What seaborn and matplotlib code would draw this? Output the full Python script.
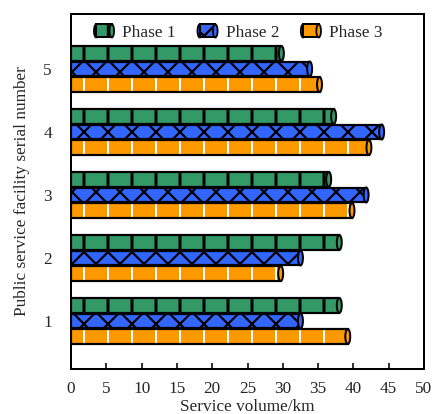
import matplotlib
matplotlib.use("Agg")
import matplotlib.pyplot as plt
import seaborn as sns
import pandas as pd
from matplotlib.patches import Rectangle, Ellipse
from matplotlib.legend_handler import HandlerBase

facilities = ["1", "2", "3", "4", "5"]
phases = ["Phase 1", "Phase 2", "Phase 3"]
phase1 = [38.0, 38.0, 36.5, 37.2, 29.8]
phase2 = [32.5, 32.5, 41.8, 44.0, 33.8]
phase3 = [39.2, 29.7, 39.8, 42.2, 35.2]
xticks = [0, 5, 10, 15, 20, 25, 30, 35, 40, 45, 50]

colors = {"Phase 1": "#339966", "Phase 2": "#3366FF", "Phase 3": "#FF9900"}
hatch_col = {"Phase 1": "black", "Phase 2": "black", "Phase 3": "white"}
hatches = {"Phase 1": "|", "Phase 2": "xx", "Phase 3": "|"}
hatch_lw = {"Phase 1": 1.5, "Phase 2": 1.1, "Phase 3": 1.0}

rows = []
for vals, ph in zip([phase1, phase2, phase3], phases):
    for f, v in zip(facilities, vals):
        rows.append({"facility": f, "phase": ph, "value": v})
df = pd.DataFrame(rows)

sns.set_style("white")
plt.rcParams["font.family"] = ["Liberation Serif", "DejaVu Serif"]
plt.rcParams["hatch.linewidth"] = 1.2

DPI = 144
fig = plt.figure(figsize=(434 / DPI, 414 / DPI), dpi=DPI)
ax = fig.add_axes([71 / 434, 1 - 369 / 414, (424 - 71) / 434, (369 - 14) / 414])

order = ["5", "4", "3", "2", "1"]
sns.barplot(data=df, x="value", y="facility", hue="phase", order=order,
            hue_order=phases, orient="h", width=0.74, gap=0.04,
            palette=colors, ax=ax, legend=False, errorbar=None)

capw = 0.7
for cont, ph in zip(ax.containers, phases):
    for p in cont.patches:
        x0, y0, w, h = p.get_x(), p.get_y(), p.get_width(), p.get_height()
        p.set_facecolor(colors[ph])
        p.set_edgecolor(hatch_col[ph])
        p.set_hatch(hatches[ph])
        p.set_linewidth(0)
        if hasattr(p, "set_hatch_linewidth"):
            p.set_hatch_linewidth(hatch_lw[ph])
        ax.add_patch(Rectangle((x0, y0), w, h, fill=False, ec="black", lw=1.1, zorder=3))
        ax.add_patch(Ellipse((x0 + w, y0 + h / 2), capw, h, fc=colors[ph], ec="black",
                             lw=1.0, zorder=4))

ax.set_xlim(0, 50)
ax.set_ylim(4.762, -0.873)
ax.set_xticks(xticks)
ax.set_xticklabels([str(t) for t in xticks])
ax.tick_params(axis="x", direction="in", length=3, width=0.8, pad=6, labelsize=8.6,
               bottom=True, top=False, color="black")
ax.tick_params(axis="y", length=0, pad=9.5, labelsize=8.6)
for s in ax.spines.values():
    s.set_color("black")
    s.set_linewidth(1.0)
ax.set_xlabel("Service volume/km", fontsize=8.6, labelpad=1.2)
ax.set_ylabel("Public service facility serial number", fontsize=8.6, labelpad=6.5)


class CylHandler(HandlerBase):
    def __init__(self, ph):
        super().__init__()
        self.ph = ph

    def create_artists(self, legend, orig_handle, xdescent, ydescent, width, height,
                       fontsize, trans):
        ph = self.ph
        cw = width * 0.3
        r = Rectangle((-xdescent, -ydescent), width, height, fc=colors[ph],
                      ec=hatch_col[ph], hatch=hatches[ph], lw=0, transform=trans)
        o = Rectangle((-xdescent, -ydescent), width, height, fill=False, ec="black",
                      lw=1.0, transform=trans)
        e = Ellipse((-xdescent + width, -ydescent + height / 2), cw, height,
                    fc=colors[ph], ec="black", lw=0.9, transform=trans)
        l = Ellipse((-xdescent, -ydescent + height / 2), cw, height,
                    fc=colors[ph], ec="black", lw=0.9, transform=trans)
        return [l, r, o, e]


handles = [Rectangle((0, 0), 1, 1) for _ in phases]
ax.legend(handles, phases, loc="upper center", bbox_to_anchor=(0.477, 1.0), ncol=3,
          frameon=False, fontsize=8.6, handlelength=0.9, handleheight=0.8,
          handletextpad=0.6, columnspacing=1.4, borderaxespad=0.2,
          handler_map={h: CylHandler(ph) for h, ph in zip(handles, phases)})

fig.savefig("out.png", dpi=DPI)
